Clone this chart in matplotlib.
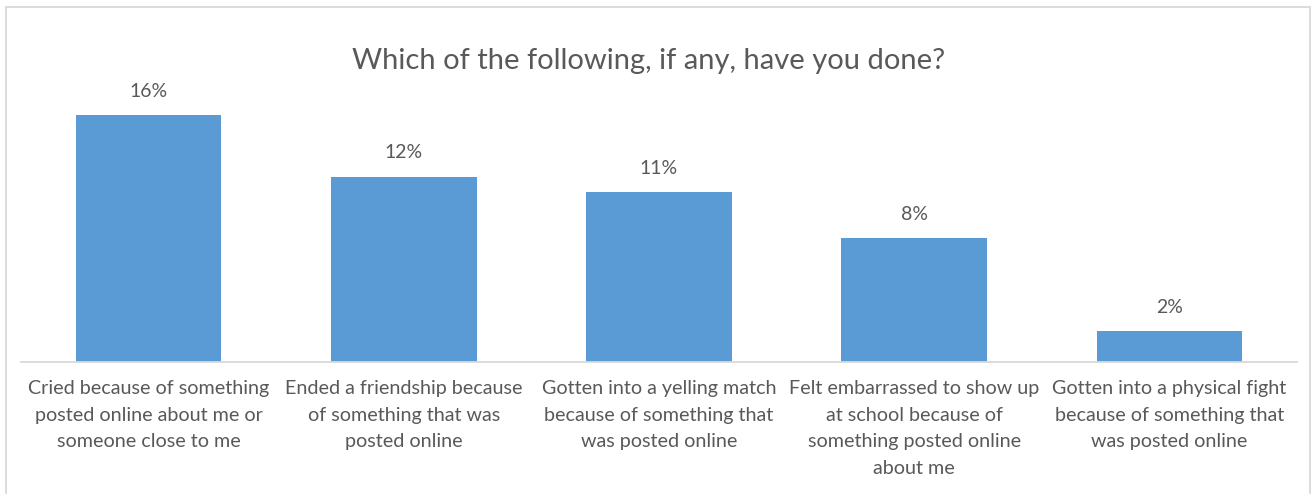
import matplotlib.pyplot as plt
from matplotlib.patches import Rectangle

categories = [
    "Cried because of something\nposted online about me or\nsomeone close to me",
    "Ended a friendship because\nof something that was\nposted online",
    "Gotten into a yelling match\nbecause of something that\nwas posted online",
    "Felt embarrassed to show up\nat school because of\nsomething posted online\nabout me",
    "Gotten into a physical fight\nbecause of something that\nwas posted online",
]
percent_done = [16, 12, 11, 8, 2]

bar_color = '#5B9BD5'
text_color = '#595959'
plt.rcParams['font.family'] = ['Lato', 'DejaVu Sans']

fig = plt.figure(figsize=(13.15, 4.94), dpi=100)
ax = fig.add_axes([0.016, 0.2672, 0.9703, 0.5628])

x = range(len(categories))
bars = ax.bar(x, percent_done, width=0.57, color=bar_color)
ax.set_xlim(-0.5, len(categories) - 0.5)
ax.set_ylim(0, 18)

for bar, v in zip(bars, percent_done):
    ax.annotate(f"{v}%", (bar.get_x() + bar.get_width() / 2, v),
                xytext=(0, 11), textcoords='offset points',
                ha='center', va='bottom', fontsize=14, color=text_color)

ax.set_xticks(list(x))
ax.set_xticklabels(categories, fontsize=14.2, color=text_color, linespacing=1.68)
ax.tick_params(axis='x', length=0, pad=13)
ax.set_yticks([])
for side in ['top', 'left', 'right']:
    ax.spines[side].set_visible(False)
ax.spines['bottom'].set_color('#D9D9D9')
ax.spines['bottom'].set_linewidth(1.3)

fig.text(0.493, 0.877, "Which of the following, if any, have you done?",
         ha='center', va='center', fontsize=21, color=text_color)

# light chart-area frame
fig.patches.append(Rectangle((6 / 1315, -0.05), 1304 / 1315, 1.05 - 7 / 494,
                             transform=fig.transFigure, fill=False,
                             edgecolor='#D9D9D9', linewidth=1.3))

fig.savefig('out.png', dpi=100, facecolor='white')
